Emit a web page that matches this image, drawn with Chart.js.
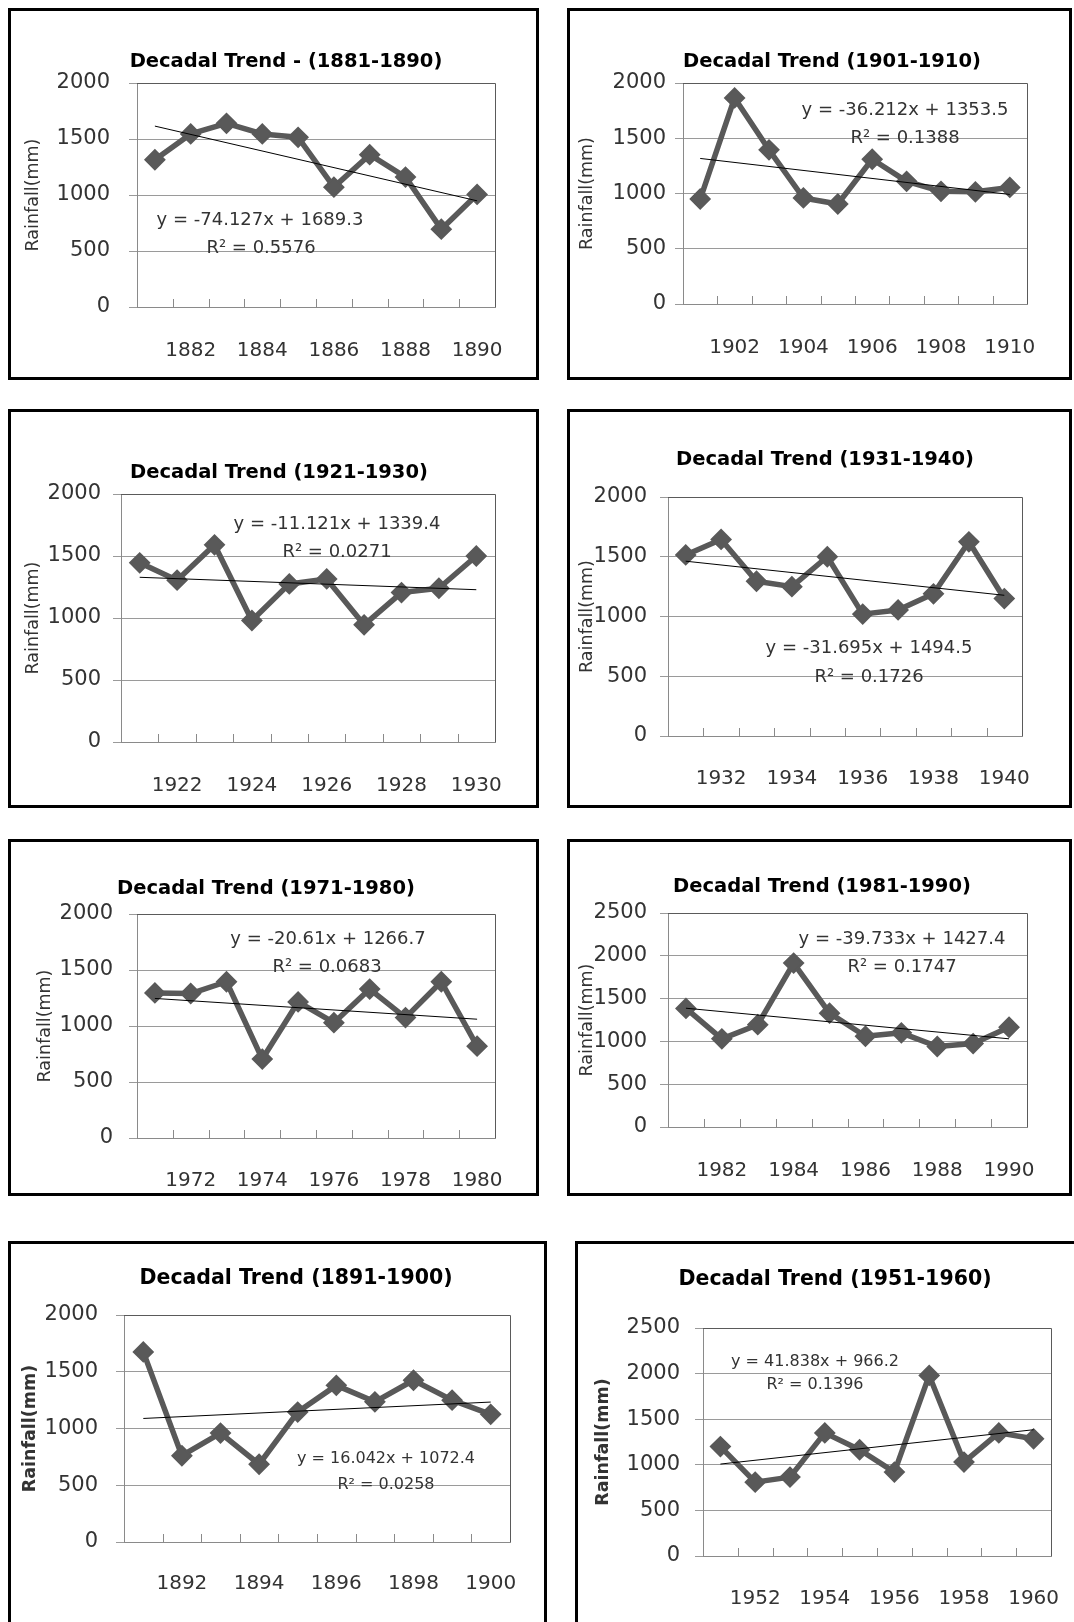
<!DOCTYPE html>
<html>
<head>
<meta charset="utf-8">
<script src="https://cdn.jsdelivr.net/npm/chart.js@4.4.1/dist/chart.umd.min.js"></script>
<style>
  html, body { margin: 0; padding: 0; background: #fff; }
  body { width: 1074px; height: 1622px; position: relative; overflow: hidden; }
  .panel { position: absolute; border: 3px solid #000; box-sizing: border-box; background: #fff; }
  .panel canvas { position: absolute; left: 0; top: 0; }
</style>
</head>
<body>
<script>
// ---- data ----
const years1881 = ['1881', '1882', '1883', '1884', '1885', '1886', '1887', '1888', '1889', '1890'];
const years1901 = ['1901', '1902', '1903', '1904', '1905', '1906', '1907', '1908', '1909', '1910'];
const years1921 = ['1921', '1922', '1923', '1924', '1925', '1926', '1927', '1928', '1929', '1930'];
const years1931 = ['1931', '1932', '1933', '1934', '1935', '1936', '1937', '1938', '1939', '1940'];
const years1971 = ['1971', '1972', '1973', '1974', '1975', '1976', '1977', '1978', '1979', '1980'];
const years1981 = ['1981', '1982', '1983', '1984', '1985', '1986', '1987', '1988', '1989', '1990'];
const years1891 = ['1891', '1892', '1893', '1894', '1895', '1896', '1897', '1898', '1899', '1900'];
const years1951 = ['1951', '1952', '1953', '1954', '1955', '1956', '1957', '1958', '1959', '1960'];

const rain1881 = [1315, 1545, 1640, 1545, 1515, 1070, 1360, 1160, 695, 1005];
const rain1901 = [950, 1865, 1395, 960, 905, 1310, 1110, 1020, 1015, 1055];
const rain1921 = [1445, 1305, 1590, 980, 1275, 1315, 945, 1205, 1240, 1500];
const rain1931 = [1515, 1645, 1295, 1250, 1500, 1020, 1055, 1190, 1625, 1150];
const rain1971 = [1295, 1290, 1395, 705, 1215, 1030, 1330, 1075, 1395, 820];
const rain1981 = [1385, 1030, 1195, 1915, 1330, 1060, 1100, 940, 975, 1165];
const rain1891 = [1675, 760, 960, 685, 1145, 1380, 1235, 1425, 1250, 1125];
const rain1951 = [1200, 810, 865, 1350, 1165, 920, 1980, 1030, 1350, 1285];

// trendline equations printed on each panel (y = slope * x + intercept, x = 1..10)
const trendSlope = [-74.127, -36.212, -11.121, -31.695, -20.61, -39.733, 16.042, 41.838];
const trendIntercept = [1689.3, 1353.5, 1339.4, 1494.5, 1266.7, 1427.4, 1072.4, 966.2];
const trendR2 = ['0.5576', '0.1388', '0.0271', '0.1726', '0.0683', '0.1747', '0.0258', '0.1396'];

const titles = [
  'Decadal Trend - (1881-1890)', 'Decadal Trend (1901-1910)',
  'Decadal Trend (1921-1930)', 'Decadal Trend (1931-1940)',
  'Decadal Trend (1971-1980)', 'Decadal Trend (1981-1990)',
  'Decadal Trend (1891-1900)', 'Decadal Trend (1951-1960)'
];
const yTicks2000 = [0, 500, 1000, 1500, 2000];
const yTicks2500 = [0, 500, 1000, 1500, 2000, 2500];

// ---- page layout (page pixels) ----
const panels = [
  { labels: years1881, values: rain1881, yTicks: yTicks2000, box: [8, 8, 539, 380], plot: [137, 83, 495, 307], title: [286, 62], tSize: 19.5, yLabRight: 110, xLabY: 343, yTitleX: 33, bold: false, eq: [260, 220], r2: [261, 248], eqSize: 18 },
  { labels: years1901, values: rain1901, yTicks: yTicks2000, box: [567, 8, 1072, 380], plot: [683, 83, 1027, 304], title: [832, 62], tSize: 19.5, yLabRight: 666, xLabY: 340, yTitleX: 587, bold: false, eq: [905, 110], r2: [905, 138], eqSize: 18 },
  { labels: years1921, values: rain1921, yTicks: yTicks2000, box: [8, 409, 539, 808], plot: [121, 494, 495, 742], title: [279, 473], tSize: 19.5, yLabRight: 101, xLabY: 778, yTitleX: 33, bold: false, eq: [337, 524], r2: [337, 552], eqSize: 18 },
  { labels: years1931, values: rain1931, yTicks: yTicks2000, box: [567, 409, 1072, 808], plot: [668, 497, 1022, 736], title: [825, 460], tSize: 19.5, yLabRight: 647, xLabY: 771, yTitleX: 587, bold: false, eq: [869, 648], r2: [869, 677], eqSize: 18 },
  { labels: years1971, values: rain1971, yTicks: yTicks2000, box: [8, 839, 539, 1196], plot: [137, 914, 495, 1138], title: [266, 889], tSize: 19.5, yLabRight: 113, xLabY: 1173, yTitleX: 45, bold: false, eq: [328, 939], r2: [327, 967], eqSize: 18 },
  { labels: years1981, values: rain1981, yTicks: yTicks2500, box: [567, 839, 1072, 1196], plot: [668, 913, 1027, 1127], title: [822, 887], tSize: 19.5, yLabRight: 647, xLabY: 1163, yTitleX: 587, bold: false, eq: [902, 939], r2: [902, 967], eqSize: 18 },
  { labels: years1891, values: rain1891, yTicks: yTicks2000, box: [8, 1241, 547, 1650], plot: [124, 1315, 510, 1542], title: [296, 1279], tSize: 20.5, yLabRight: 98, xLabY: 1576, yTitleX: 30, bold: true, eq: [386, 1459], r2: [386, 1485], eqSize: 16 },
  { labels: years1951, values: rain1951, yTicks: yTicks2500, box: [575, 1241, 1095, 1650], plot: [703, 1328, 1051, 1556], title: [835, 1280], tSize: 20.5, yLabRight: 680, xLabY: 1591, yTitleX: 603, bold: true, eq: [815, 1362], r2: [815, 1385], eqSize: 16 }
];

const FONT = '"DejaVu Sans", "Liberation Sans", sans-serif';
const LINE = '#595959';
const GRID = '#9a9a9a';
const AXIS = '#8a8a8a';
const FRAME = '#5a5a5a';
const TEXT = '#333333';

Chart.defaults.font.family = FONT;

const panelDecor = {
  id: 'panelDecor',
  beforeDatasetsDraw(chart, args, opts) {
    const { ctx, chartArea: a } = chart;
    const xs = chart.scales.x;
    const n = chart.data.labels.length;
    ctx.save();
    // inside tick marks between categories
    ctx.strokeStyle = AXIS;
    ctx.lineWidth = 1;
    ctx.beginPath();
    for (let i = 1; i < n; i++) {
      const x = Math.round((xs.getPixelForValue(i - 1) + xs.getPixelForValue(i)) / 2) + 0.5;
      ctx.moveTo(x, a.bottom);
      ctx.lineTo(x, a.bottom - 8);
    }
    ctx.stroke();
    // plot area frame (top and right)
    ctx.strokeStyle = FRAME;
    ctx.beginPath();
    ctx.moveTo(a.left, Math.round(a.top) + 0.5);
    ctx.lineTo(Math.round(a.right) + 0.5, Math.round(a.top) + 0.5);
    ctx.lineTo(Math.round(a.right) + 0.5, a.bottom);
    ctx.stroke();
    ctx.restore();
  },
  afterDraw(chart, args, opts) {
    const ctx = chart.ctx;
    ctx.save();
    ctx.textAlign = 'center';
    ctx.textBaseline = 'middle';
    ctx.fillStyle = '#000';
    ctx.font = 'bold ' + opts.tSize + 'px ' + FONT;
    ctx.fillText(opts.title, opts.titleX, opts.titleY);
    ctx.fillStyle = TEXT;
    ctx.font = opts.eqSize + 'px ' + FONT;
    ctx.fillText(opts.eq, opts.eqX, opts.eqY);
    ctx.fillText(opts.r2, opts.r2X, opts.r2Y);
    ctx.restore();
  }
};

panels.forEach((p, k) => {
  const div = document.createElement('div');
  div.className = 'panel';
  div.style.left = p.box[0] + 'px';
  div.style.top = p.box[1] + 'px';
  div.style.width = (p.box[2] - p.box[0]) + 'px';
  div.style.height = (p.box[3] - p.box[1]) + 'px';
  const canvas = document.createElement('canvas');
  const ox = p.box[0] + 3, oy = p.box[1] + 3;
  const cw = p.box[2] - p.box[0] - 6, ch = p.box[3] - p.box[1] - 6;
  canvas.width = cw;
  canvas.height = ch;
  canvas.style.width = cw + 'px';
  canvas.style.height = ch + 'px';
  div.appendChild(canvas);
  document.body.appendChild(div);

  const pl = p.plot[0] - ox, pt = p.plot[1] - oy, pr = p.plot[2] - ox, pb = p.plot[3] - oy;
  const n = p.labels.length;
  const trend = p.labels.map(() => null);
  trend[0] = trendIntercept[k] + trendSlope[k] * 1;
  trend[n - 1] = trendIntercept[k] + trendSlope[k] * n;

  const slope = trendSlope[k];
  const eqText = 'y = ' + (slope < 0 ? '-' : '') + Math.abs(slope) + 'x + ' + trendIntercept[k];
  const yMax = p.yTicks[p.yTicks.length - 1];

  new Chart(canvas, {
    type: 'line',
    data: {
      labels: p.labels,
      datasets: [
        {
          label: 'Linear trend',
          data: trend,
          spanGaps: true,
          borderColor: '#000',
          borderWidth: 1,
          pointRadius: 0,
          fill: false
        },
        {
          label: 'Rainfall',
          data: p.values,
          borderColor: LINE,
          backgroundColor: LINE,
          borderWidth: 5.5,
          borderJoinStyle: 'round',
          pointStyle: 'rectRot',
          pointRadius: 9.5,
          pointBorderWidth: 2,
          pointBackgroundColor: LINE,
          pointBorderColor: LINE,
          tension: 0,
          fill: false
        }
      ]
    },
    options: {
      responsive: false,
      devicePixelRatio: 1,
      animation: false,
      layout: { padding: { left: 0, top: pt, right: cw - pr, bottom: 0 } },
      plugins: {
        legend: { display: false },
        tooltip: { enabled: false },
        title: { display: false },
        panelDecor: {
          title: titles[k], titleX: p.title[0] - ox, titleY: p.title[1] - oy, tSize: p.tSize,
          eq: eqText, eqX: p.eq[0] - ox, eqY: p.eq[1] - oy,
          r2: 'R\u00B2 = ' + trendR2[k], r2X: p.r2[0] - ox, r2Y: p.r2[1] - oy,
          eqSize: p.eqSize
        }
      },
      scales: {
        x: {
          type: 'category',
          offset: true,
          grid: { display: false, offset: true },
          border: { display: true, color: AXIS, width: 1 },
          ticks: {
            autoSkip: false,
            maxRotation: 0,
            minRotation: 0,
            color: TEXT,
            font: { size: 20 },
            padding: p.xLabY - p.plot[3] - 12,
            callback: function (v, i) { return i % 2 === 1 ? this.getLabelForValue(v) : ''; }
          },
          afterFit: s => { s.height = ch - pb; }
        },
        y: {
          min: 0,
          max: yMax,
          afterBuildTicks: s => { s.ticks = p.yTicks.map(v => ({ value: v })); },
          grid: { color: GRID, lineWidth: 1, drawTicks: true, tickLength: 8, tickColor: GRID },
          border: { display: true, color: AXIS, width: 1 },
          ticks: {
            color: TEXT,
            font: { size: 21 },
            padding: p.plot[0] - 8 - p.yLabRight,
            callback: v => String(v)
          },
          title: {
            display: true,
            text: 'Rainfall(mm)',
            color: TEXT,
            font: { size: 17.5, weight: p.bold ? 'bold' : 'normal' },
            padding: { top: (p.yTitleX - ox) - 10.5, bottom: 0 }
          },
          afterFit: s => { s.width = pl; }
        }
      }
    },
    plugins: [panelDecor]
  });
});
</script>
</body>
</html>
